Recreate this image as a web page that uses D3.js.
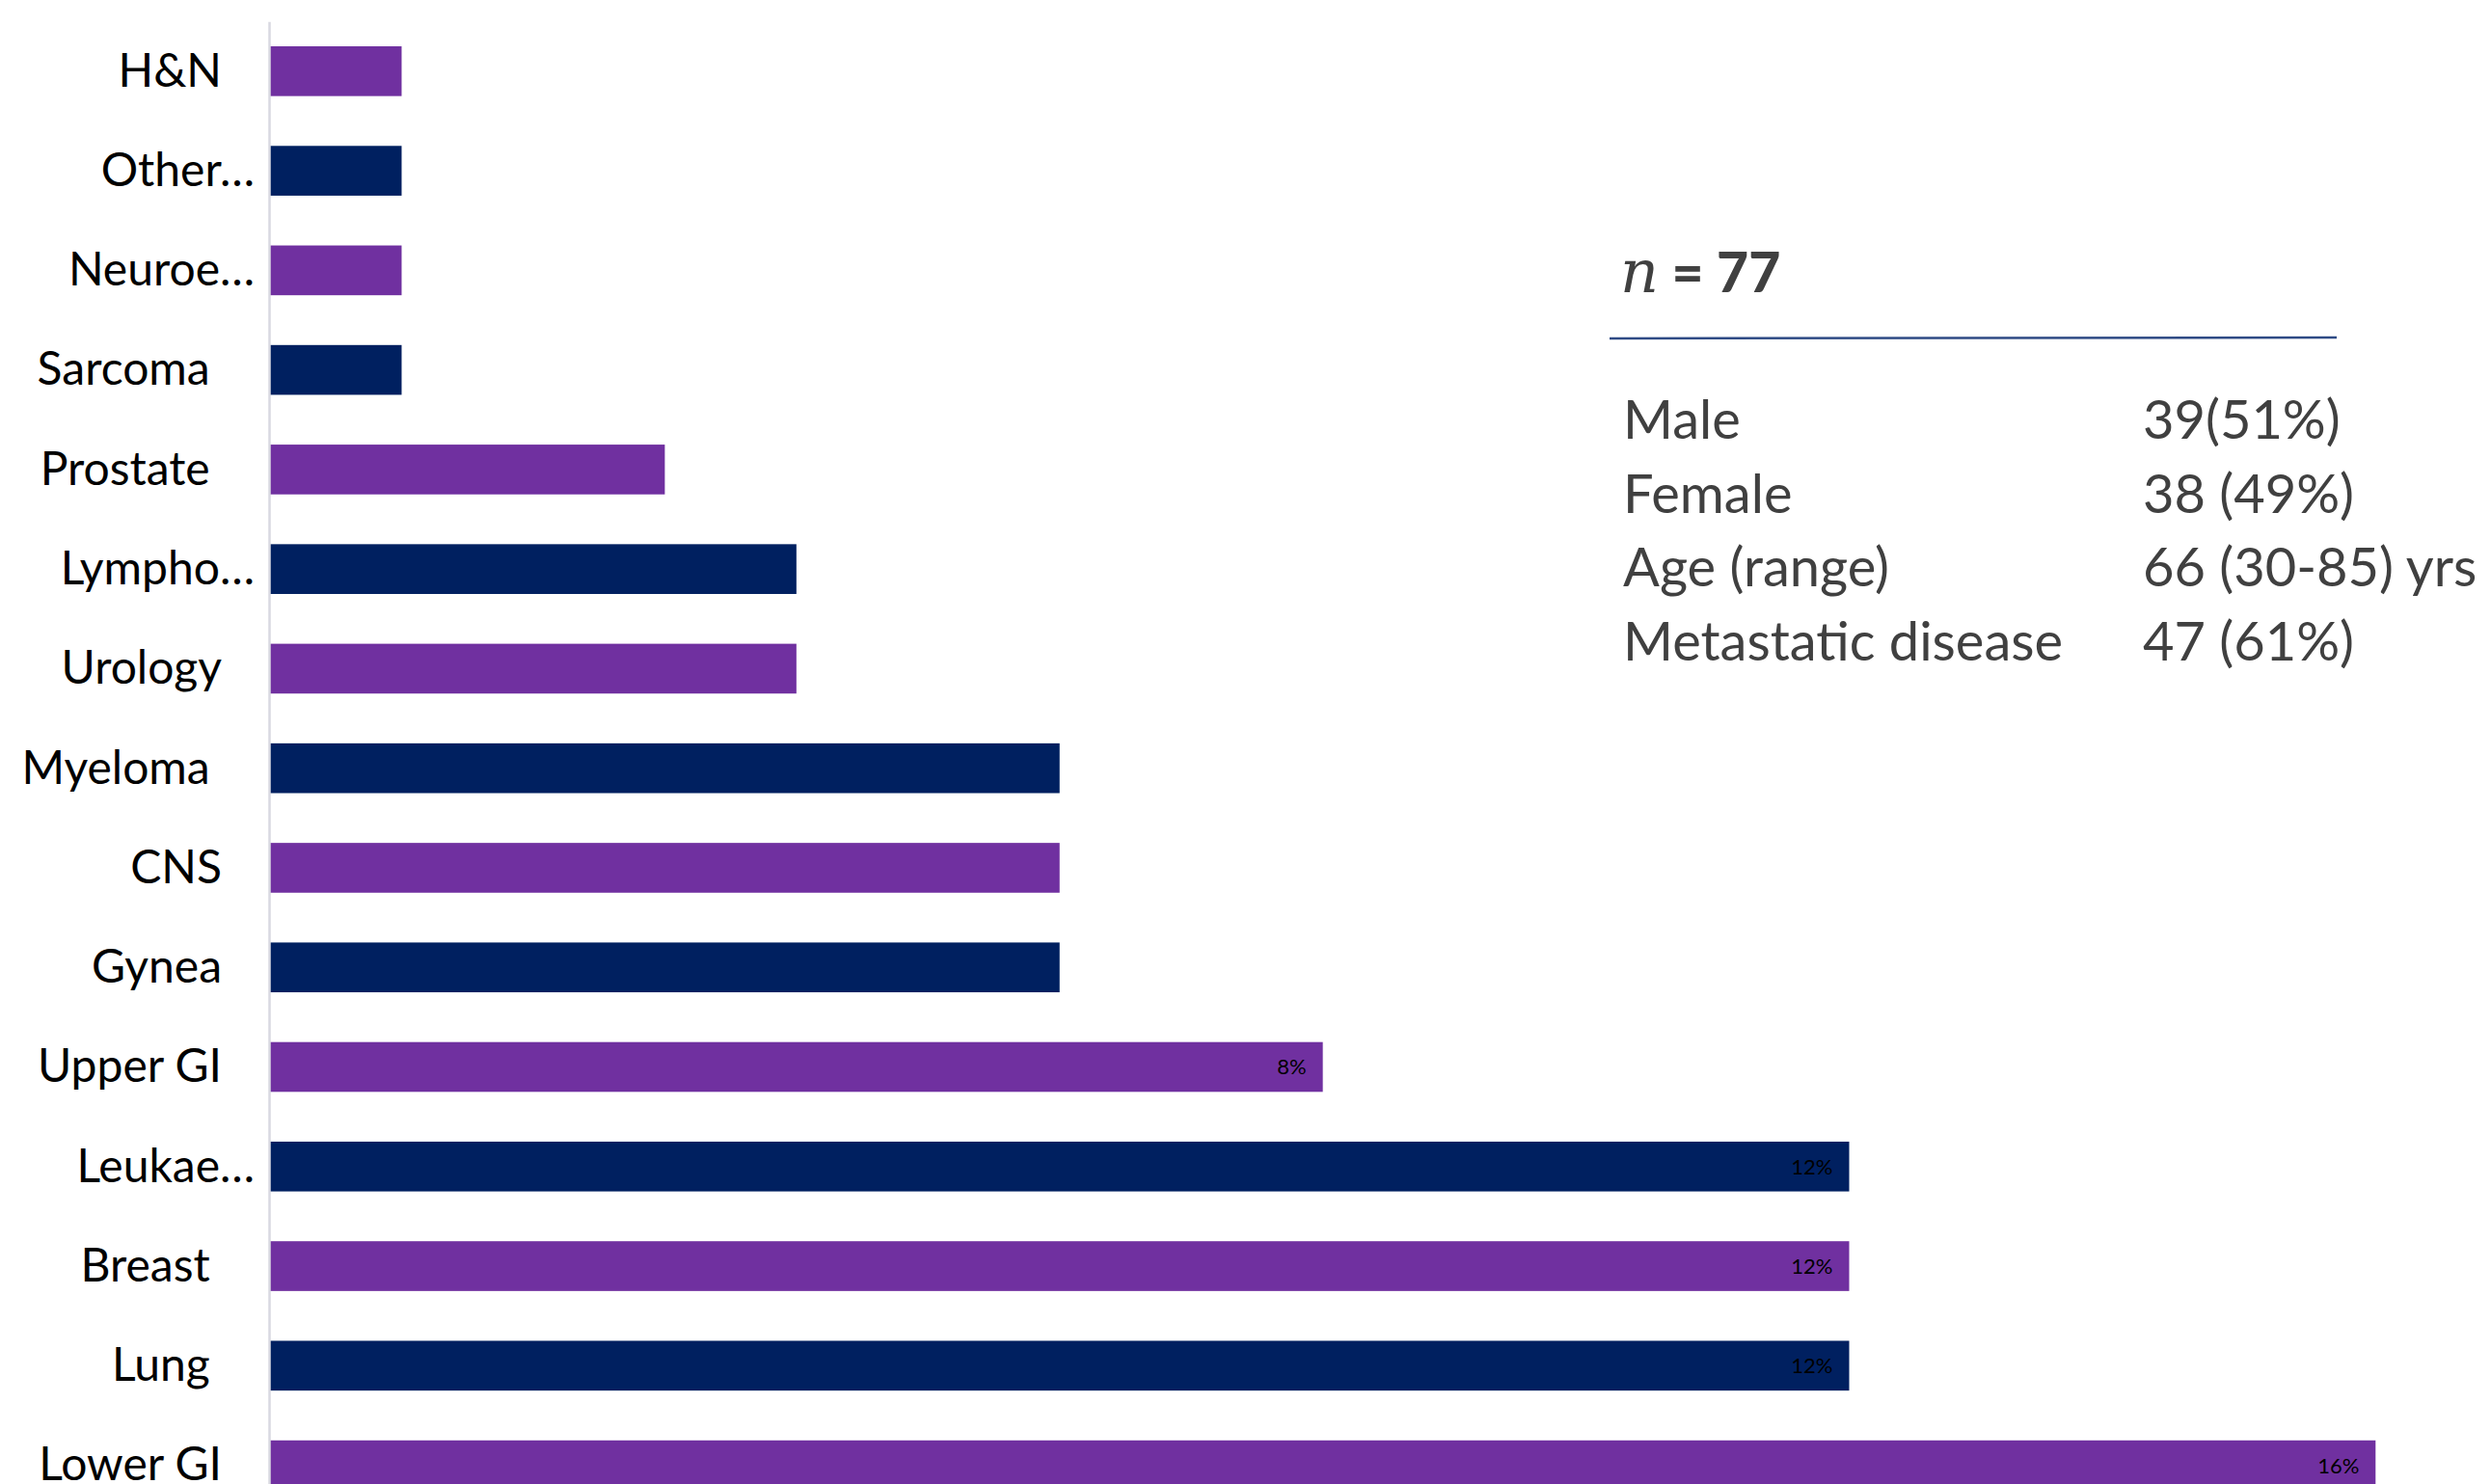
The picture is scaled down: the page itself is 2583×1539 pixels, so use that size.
<!DOCTYPE html>
<html>
<head>
<meta charset="utf-8">
<script src="https://cdn.jsdelivr.net/npm/d3@7"></script>
<style>
  body { margin: 0; background: #fff; }
  svg { display: block; }
  .cat text { font-family: Lato, "Noto Sans", sans-serif; white-space: pre; }
</style>
</head>
<body>
<div id="grafico"></div>
<script>
// datos (de arriba hacia abajo)
categorias = ['H&N', 'Other…', 'Neuroe…', 'Sarcoma ', 'Prostate ', 'Lympho…', 'Urology',
              'Myeloma ', 'CNS', 'Gynea', 'Upper GI', 'Leukae…', 'Breast ', 'Lung ', 'Lower GI']
valores    = [1, 1, 1, 1, 3, 4, 4, 6, 6, 6, 8, 12, 12, 12, 16]
etiquetas  = ['', '', '', '', '', '', '', '', '', '', '8%', '12%', '12%', '12%', '16%']
colores    = ['#7030A0', '#002060']

// tabla de resumen
nTexto      = '77'
filasTexto  = ['Male', 'Female', 'Age (range)', 'Metastatic disease']
filasValor  = ['39(51%)', '38 (49%)', '66 (30-85) yrs', '47 (61%)']

ancho_total = 2583
alto_total  = 1539
margins = { top: 22.2, left: 280 }
ancho = 2183.3
alto  = 1549

svg = d3.select('#grafico').append('svg')
        .attr('width', ancho_total)
        .attr('height', alto_total)

g = svg.append('g')
       .attr('transform', `translate(${ margins.left }, ${ margins.top })`)

// escalas
x = d3.scaleLinear()
      .domain([0, d3.max(valores)])
      .range([0, ancho])

y = d3.scaleBand()
      .domain(categorias)
      .range([0, alto])
      .paddingInner(0.5)
      .paddingOuter(0.25)

// barras
g.selectAll('rect.barra')
  .data(categorias)
  .enter()
  .append('rect')
    .attr('class', 'barra')
    .attr('x', 0)
    .attr('y', d => y(d))
    .attr('width', (d, i) => x(valores[i]))
    .attr('height', y.bandwidth())
    .attr('fill', (d, i) => colores[i % 2])

// etiquetas de valor
g.selectAll('text.valor')
  .data(categorias)
  .enter()
  .append('text')
    .attr('class', 'valor')
    .attr('x', (d, i) => x(valores[i]) - 17)
    .attr('y', d => y(d) + y.bandwidth() / 2 + 8)
    .attr('text-anchor', 'end')
    .style('font-family', 'Lato, sans-serif')
    .style('font-size', '22px')
    .style('fill', '#000')
    .text((d, i) => etiquetas[i])

// eje y
ejeY = g.append('g')
        .attr('class', 'cat')
        .attr('transform', 'translate(-1, 0)')
        .call(d3.axisLeft(y).tickSize(0).tickSizeOuter(0))

ejeY.select('.domain')
    .attr('stroke', '#D9D9E1')
    .attr('stroke-width', 2.5)

ejeY.selectAll('.tick text')
    .attr('x', d => d.endsWith('…') ? -15 : -49)
    .attr('dy', '0.33em')
    .style('font-size', '48px')
    .style('fill', '#000')

// tabla de resumen
tabla = svg.append('g')

nTxt = tabla.append('text')
        .attr('x', 1680)
        .attr('y', 303)
        .style('fill', '#404040')
nTxt.append('tspan')
    .style('font-family', '"DejaVu Serif", serif')
    .style('font-style', 'italic')
    .style('font-size', '62px')
    .text('n')
nTxt.append('tspan')
    .style('font-family', 'Lato, sans-serif')
    .style('font-weight', '900')
    .style('font-size', '57px')
    .text(' = ' + nTexto)

tabla.append('line')
    .attr('x1', 1669).attr('y1', 351)
    .attr('x2', 2423).attr('y2', 350)
    .attr('stroke', '#2F4B85')
    .attr('stroke-width', 2.5)

filasTexto.forEach((d, i) => {
  tabla.append('text')
      .attr('x', 1683)
      .attr('y', 455 + i * 76.7)
      .style('font-family', 'Lato, sans-serif')
      .style('font-size', '56px')
      .style('fill', '#404040')
      .text(d)
  tabla.append('text')
      .attr('x', 2222)
      .attr('y', 455 + i * 76.7)
      .style('font-family', 'Lato, sans-serif')
      .style('font-size', '56px')
      .style('fill', '#404040')
      .text(filasValor[i])
})
</script>
</body>
</html>
